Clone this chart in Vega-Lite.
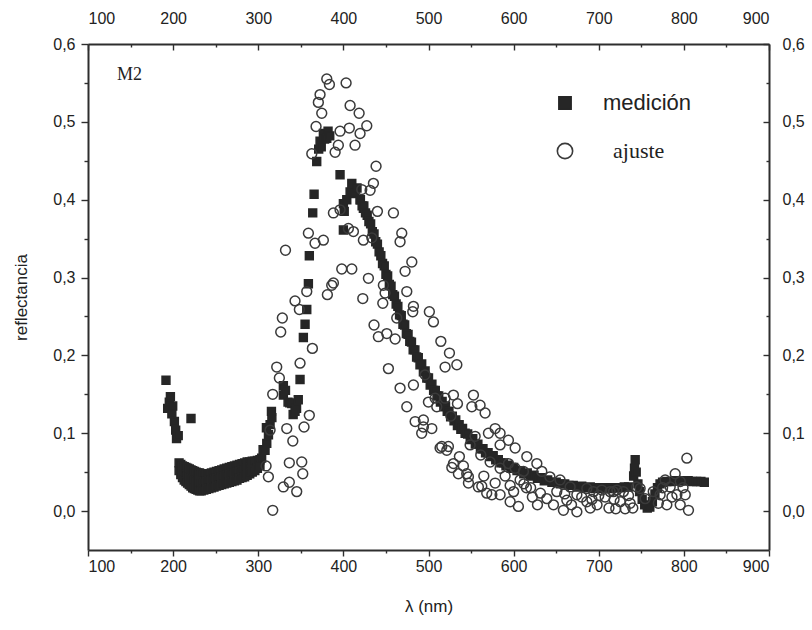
{
  "$schema": "https://vega.github.io/schema/vega-lite/v6.json",
  "width": 681,
  "height": 506,
  "autosize": {"type": "none"},
  "padding": {"left": 88, "top": 44, "right": 43, "bottom": 80},
  "background": "white",
  "config": {
    "view": {"stroke": null},
    "axis": {
      "grid": false,
      "domainColor": "#2e2e2e",
      "domainWidth": 2,
      "tickColor": "#2e2e2e",
      "tickWidth": 1.4,
      "labelColor": "#222222",
      "labelFont": "Liberation Sans",
      "labelFontSize": 16,
      "titleFont": "Liberation Sans",
      "titleFontSize": 17,
      "titleFontWeight": "normal",
      "titleColor": "#222222"
    },
    "legend": {
      "orient": "none",
      "legendX": 466,
      "legendY": 48,
      "labelFont": "Liberation Sans",
      "labelFontSize": 22,
      "labelColor": "#222222",
      "rowPadding": 26,
      "symbolSize": 150,
      "symbolStrokeWidth": 1.6,
      "title": null
    }
  },
  "resolve": {"axis": {"x": "independent", "y": "independent"}},
  "layer": [
    {
      "data": {
        "values": "serie,lambda,r\nmedición,191.6,0.168\nmedición,193.6,0.132\nmedición,195.5,0.140\nmedición,196.8,0.147\nmedición,198.5,0.125\nmedición,199.5,0.135\nmedición,201.5,0.115\nmedición,203,0.104\nmedición,204,0.093\nmedición,206,0.097\nmedición,221,0.119\nmedición,207,0.062\nmedición,207,0.052\nmedición,209,0.060\nmedición,209,0.047\nmedición,211,0.058\nmedición,211,0.050\nmedición,211,0.043\nmedición,213,0.057\nmedición,213,0.048\nmedición,213,0.040\nmedición,215,0.056\nmedición,215,0.047\nmedición,215,0.038\nmedición,217,0.055\nmedición,217,0.045\nmedición,217,0.036\nmedición,219,0.054\nmedición,219,0.044\nmedición,219,0.034\nmedición,221,0.053\nmedición,221,0.042\nmedición,221,0.032\nmedición,223,0.052\nmedición,223,0.041\nmedición,223,0.030\nmedición,225,0.051\nmedición,225,0.040\nmedición,225,0.029\nmedición,227,0.050\nmedición,227,0.039\nmedición,227,0.028\nmedición,229,0.049\nmedición,229,0.038\nmedición,229,0.027\nmedición,231,0.049\nmedición,231,0.037\nmedición,231,0.026\nmedición,233,0.048\nmedición,233,0.037\nmedición,233,0.026\nmedición,236,0.048\nmedición,236,0.038\nmedición,236,0.027\nmedición,239,0.048\nmedición,239,0.038\nmedición,239,0.028\nmedición,242,0.048\nmedición,242,0.039\nmedición,242,0.029\nmedición,245,0.049\nmedición,245,0.040\nmedición,245,0.030\nmedición,248,0.050\nmedición,248,0.041\nmedición,248,0.031\nmedición,251,0.051\nmedición,251,0.042\nmedición,251,0.032\nmedición,254,0.052\nmedición,254,0.043\nmedición,254,0.033\nmedición,257,0.053\nmedición,257,0.044\nmedición,257,0.034\nmedición,260,0.054\nmedición,260,0.045\nmedición,260,0.035\nmedición,263,0.055\nmedición,263,0.046\nmedición,263,0.036\nmedición,266,0.056\nmedición,266,0.047\nmedición,266,0.037\nmedición,269,0.057\nmedición,269,0.048\nmedición,269,0.038\nmedición,272,0.058\nmedición,272,0.049\nmedición,272,0.039\nmedición,275,0.059\nmedición,275,0.050\nmedición,275,0.040\nmedición,278,0.060\nmedición,278,0.051\nmedición,278,0.042\nmedición,281,0.061\nmedición,281,0.052\nmedición,281,0.043\nmedición,284,0.062\nmedición,284,0.053\nmedición,284,0.044\nmedición,287,0.063\nmedición,287,0.055\nmedición,287,0.046\nmedición,290,0.063\nmedición,290,0.056\nmedición,290,0.048\nmedición,293,0.064\nmedición,293,0.050\nmedición,296,0.064\nmedición,296,0.052\nmedición,299,0.065\nmedición,299,0.055\nmedición,302,0.066\nmedición,302,0.058\nmedición,304,0.068\nmedición,305.7,0.079\nmedición,308,0.078\nmedición,310,0.087\nmedición,309.6,0.107\nmedición,312,0.098\nmedición,313.9,0.111\nmedición,315.5,0.128\nmedición,316,0.120\nmedición,329.5,0.161\nmedición,329.5,0.149\nmedición,332,0.155\nmedición,335,0.140\nmedición,337,0.139\nmedición,339.4,0.138\nmedición,341,0.124\nmedición,343.2,0.128\nmedición,345,0.132\nmedición,347,0.143\nmedición,349.1,0.169\nmedición,353,0.223\nmedición,355,0.240\nmedición,357,0.259\nmedición,358.9,0.292\nmedición,360,0.328\nmedición,364,0.383\nmedición,365.6,0.407\nmedición,368.7,0.449\nmedición,371,0.465\nmedición,372.6,0.475\nmedición,374,0.468\nmedición,376.5,0.485\nmedición,378,0.478\nmedición,380.5,0.479\nmedición,382,0.488\nmedición,384,0.482\nmedición,396.1,0.432\nmedición,400,0.395\nmedición,401,0.385\nmedición,400,0.361\nmedición,404,0.400\nmedición,407.9,0.410\nmedición,409.9,0.421\nmedición,413.7,0.408\nmedición,416,0.415\nmedición,419.6,0.400\nmedición,423.5,0.389\nmedición,420,0.400\nmedición,422,0.392\nmedición,424,0.392\nmedición,426,0.383\nmedición,428,0.380\nmedición,430,0.372\nmedición,432,0.369\nmedición,434,0.359\nmedición,436,0.356\nmedición,438,0.346\nmedición,440,0.343\nmedición,442,0.333\nmedición,444,0.328\nmedición,446,0.318\nmedición,448,0.315\nmedición,450,0.304\nmedición,452,0.302\nmedición,454,0.291\nmedición,456,0.289\nmedición,458,0.278\nmedición,460,0.276\nmedición,462,0.266\nmedición,464,0.263\nmedición,466,0.252\nmedición,468,0.251\nmedición,470,0.240\nmedición,472,0.239\nmedición,474,0.228\nmedición,476,0.227\nmedición,478,0.218\nmedición,480,0.217\nmedición,482,0.207\nmedición,484,0.207\nmedición,486,0.198\nmedición,488,0.197\nmedición,490,0.188\nmedición,492,0.189\nmedición,494,0.179\nmedición,496,0.180\nmedición,498,0.171\nmedición,500,0.171\nmedición,502,0.162\nmedición,504,0.163\nmedición,506,0.155\nmedición,508,0.155\nmedición,510,0.148\nmedición,512,0.148\nmedición,514,0.140\nmedición,516,0.141\nmedición,518,0.134\nmedición,520,0.135\nmedición,522,0.128\nmedición,524,0.128\nmedición,526,0.121\nmedición,528,0.122\nmedición,530,0.116\nmedición,532,0.117\nmedición,534,0.110\nmedición,536,0.111\nmedición,538,0.105\nmedición,540,0.106\nmedición,543,0.100\nmedición,546,0.099\nmedición,549,0.092\nmedición,552,0.093\nmedición,555,0.086\nmedición,558,0.086\nmedición,561,0.080\nmedición,564,0.080\nmedición,567,0.075\nmedición,570,0.075\nmedición,573,0.070\nmedición,576,0.071\nmedición,579,0.066\nmedición,582,0.066\nmedición,585,0.062\nmedición,588,0.062\nmedición,591,0.058\nmedición,594,0.059\nmedición,597,0.055\nmedición,600,0.056\nmedición,604,0.052\nmedición,608,0.052\nmedición,612,0.048\nmedición,616,0.049\nmedición,620,0.045\nmedición,624,0.046\nmedición,628,0.042\nmedición,632,0.043\nmedición,636,0.039\nmedición,640,0.040\nmedición,645,0.037\nmedición,650,0.037\nmedición,655,0.035\nmedición,660,0.035\nmedición,665,0.033\nmedición,670,0.033\nmedición,675,0.031\nmedición,680,0.032\nmedición,685,0.030\nmedición,690,0.031\nmedición,695,0.029\nmedición,700,0.030\nmedición,705,0.029\nmedición,710,0.030\nmedición,715,0.029\nmedición,720,0.030\nmedición,725,0.030\nmedición,730,0.031\nmedición,735,0.031\nmedición,741,0.045\nmedición,742,0.055\nmedición,742.8,0.066\nmedición,744,0.050\nmedición,746,0.035\nmedición,748,0.025\nmedición,751,0.015\nmedición,754,0.008\nmedición,757,0.004\nmedición,760,0.005\nmedición,763,0.012\nmedición,766,0.022\nmedición,769,0.030\nmedición,772,0.035\nmedición,775,0.037\nmedición,780,0.038\nmedición,785,0.038\nmedición,790,0.039\nmedición,795,0.039\nmedición,800,0.039\nmedición,805,0.039\nmedición,810,0.038\nmedición,815,0.038\nmedición,820,0.038\nmedición,824,0.037\najuste,321.7,0.185\najuste,324.8,0.171\najuste,317,0.150\najuste,313.9,0.104\najuste,333.5,0.106\najuste,340.6,0.090\najuste,360,0.123\najuste,353.8,0.108\najuste,349.1,0.190\najuste,309.2,0.058\najuste,311.9,0.044\najuste,336.5,0.062\najuste,351.1,0.063\najuste,352.3,0.048\najuste,329.5,0.031\najuste,336.5,0.037\najuste,345.2,0.025\najuste,317,0.001\najuste,363.6,0.209\najuste,328.3,0.248\najuste,326.4,0.230\najuste,348.3,0.259\najuste,343.2,0.270\najuste,357,0.282\najuste,381.2,0.278\najuste,386.3,0.290\najuste,332,0.335\najuste,380.5,0.555\najuste,383.6,0.548\najuste,403.2,0.550\najuste,372.6,0.535\najuste,370.6,0.525\najuste,407.9,0.521\najuste,374.6,0.511\najuste,418.5,0.511\najuste,367.9,0.494\najuste,407,0.492\najuste,427.5,0.495\najuste,396.1,0.488\najuste,419.6,0.485\najuste,394.1,0.470\najuste,413.7,0.470\najuste,362.9,0.459\najuste,390.3,0.461\najuste,438.4,0.443\najuste,435.3,0.421\najuste,421.6,0.413\najuste,431.4,0.412\najuste,388.3,0.383\najuste,396.1,0.387\najuste,440,0.385\najuste,458.8,0.383\najuste,405.9,0.363\najuste,411.8,0.359\najuste,423.5,0.348\najuste,433.4,0.351\najuste,468.6,0.357\najuste,466.6,0.346\najuste,358.9,0.357\najuste,366.7,0.344\najuste,376.5,0.348\najuste,480.4,0.320\najuste,472.5,0.308\najuste,398.1,0.311\najuste,409.9,0.311\najuste,429.4,0.299\najuste,388.3,0.293\najuste,422.8,0.273\najuste,446.3,0.267\najuste,449,0.280\najuste,447,0.290\najuste,474.5,0.282\najuste,481.5,0.256\najuste,462.7,0.248\najuste,436,0.239\najuste,441.1,0.224\najuste,451,0.228\najuste,460.8,0.221\najuste,452.9,0.183\najuste,466.6,0.158\najuste,482.3,0.162\najuste,474.5,0.134\najuste,484.3,0.115\najuste,482.3,0.263\najuste,501,0.256\najuste,505.8,0.243\najuste,514.5,0.218\najuste,524.6,0.203\najuste,533.3,0.188\najuste,519.5,0.185\najuste,496,0.175\najuste,494,0.108\najuste,503.9,0.106\najuste,492,0.100\najuste,515.6,0.083\najuste,523.4,0.083\najuste,529.3,0.061\najuste,535.1,0.048\najuste,544.9,0.048\najuste,546.9,0.036\najuste,558.6,0.031\najuste,568.4,0.023\najuste,507.8,0.145\najuste,519.5,0.145\najuste,529.3,0.149\najuste,534,0.138\najuste,499.9,0.140\najuste,509.7,0.134\najuste,526.2,0.122\najuste,552.8,0.149\najuste,560.6,0.136\najuste,550.9,0.134\najuste,566.5,0.126\najuste,494,0.117\najuste,578.3,0.106\najuste,570.4,0.100\najuste,584.1,0.100\najuste,593.9,0.091\najuste,584.1,0.085\najuste,601.8,0.081\najuste,554.8,0.096\najuste,548.9,0.085\najuste,513.6,0.081\najuste,521.5,0.078\najuste,536.3,0.070\najuste,561.4,0.072\najuste,572.4,0.063\najuste,584.1,0.055\najuste,593.9,0.061\najuste,601.8,0.055\najuste,611.5,0.051\najuste,615.5,0.070\najuste,627.3,0.061\najuste,633.1,0.051\najuste,527.4,0.056\najuste,541,0.058\najuste,546.9,0.044\najuste,562.6,0.032\najuste,578.3,0.036\najuste,595.9,0.033\najuste,607.6,0.040\najuste,574.4,0.021\najuste,584.1,0.021\najuste,595.9,0.012\najuste,605.6,0.006\najuste,631.5,0.023\najuste,639,0.016\najuste,646.8,0.008\najuste,642.6,0.044\najuste,654.6,0.040\najuste,650.7,0.025\najuste,666.4,0.031\najuste,674.3,0.021\najuste,686,0.029\najuste,693.8,0.025\najuste,703.6,0.027\najuste,713.4,0.025\najuste,721.3,0.027\najuste,662.5,0.014\najuste,686,0.012\najuste,698,0.008\najuste,658.5,0.001\najuste,674.3,-0.001\najuste,707.5,0.018\najuste,717.3,0.025\najuste,729,0.025\najuste,725.2,0.012\najuste,736.9,0.010\najuste,712,0.004\najuste,731,0.003\najuste,744.6,0.031\najuste,748.6,0.029\najuste,754.5,0.016\najuste,764,0.025\najuste,770,0.010\najuste,772.1,0.021\najuste,778,0.040\najuste,783.9,0.031\najuste,789.8,0.048\najuste,795.7,0.038\najuste,791.8,0.021\najuste,801.6,0.021\najuste,795.7,0.008\najuste,780,0.008\najuste,805.4,0.001\najuste,803.5,0.068\najuste,615,0.030\najuste,622,0.018\najuste,628,0.008\najuste,660,0.022\najuste,668,0.008\najuste,680,0.018\najuste,692,0.015\najuste,700,0.020\najuste,718,0.015\najuste,735,0.020\najuste,740,0.004\najuste,690,0.004\najuste,720,0.003\najuste,565,0.045\najuste,590,0.045\najuste,600,0.025\najuste,612,0.035\najuste,620,0.030\najuste,775,0.030\najuste,786,0.018\najuste,799,0.030",
        "format": {"type": "csv", "parse": {"lambda": "number", "r": "number"}}
      },
      "mark": {"type": "point", "filled": true, "opacity": 1, "size": 62, "strokeWidth": 1.5},
      "encoding": {
        "x": {
          "field": "lambda", "type": "quantitative",
          "scale": {"domain": [100, 900], "nice": false, "zero": false},
          "axis": {"orient": "bottom", "values": [100, 200, 300, 400, 500, 600, 700, 800, 900], "title": "λ (nm)", "tickSize": 6, "labelPadding": 2, "titlePadding": 24}
        },
        "y": {
          "field": "r", "type": "quantitative",
          "scale": {"domain": [-0.05, 0.6], "nice": false, "zero": false},
          "axis": {"orient": "left", "values": [0, 0.1, 0.2, 0.3, 0.4, 0.5, 0.6], "labelExpr": "replace(format(datum.value, '.1f'), '.', ',')", "title": "reflectancia", "tickSize": 7, "labelPadding": 6, "titlePadding": 22}
        },
        "shape": {
          "field": "serie", "type": "nominal",
          "scale": {"domain": ["medición", "ajuste"], "range": ["square", "M -1.25 0 A 1.25 1.25 0 1 0 1.25 0 A 1.25 1.25 0 1 0 -1.25 0 Z"]},
          "legend": {"title": null, "labelFont": {"expr": "datum.label === 'ajuste' ? 'Liberation Serif' : 'Liberation Sans'"}, "labelOffset": {"expr": "datum.label === 'ajuste' ? 37 : 27"}}
        },
        "fill": {
          "field": "serie", "type": "nominal",
          "scale": {"domain": ["medición", "ajuste"], "range": ["#262626", "transparent"]},
          "legend": {"title": null, "labelFont": {"expr": "datum.label === 'ajuste' ? 'Liberation Serif' : 'Liberation Sans'"}, "labelOffset": {"expr": "datum.label === 'ajuste' ? 37 : 27"}}
        },
        "stroke": {
          "field": "serie", "type": "nominal",
          "scale": {"domain": ["medición", "ajuste"], "range": ["#262626", "#3a3a3a"]},
          "legend": {"title": null, "labelFont": {"expr": "datum.label === 'ajuste' ? 'Liberation Serif' : 'Liberation Sans'"}, "labelOffset": {"expr": "datum.label === 'ajuste' ? 37 : 27"}}
        }
      }
    },
    {
      "data": {"values": [{"lambda": 100, "r": 0}]},
      "mark": {"type": "point", "opacity": 0},
      "encoding": {
        "x": {
          "field": "lambda", "type": "quantitative",
          "scale": {"domain": [100, 900], "nice": false, "zero": false},
          "axis": {"orient": "top", "values": [100, 200, 300, 400, 500, 600, 700, 800, 900], "title": null, "tickSize": -6, "labelPadding": 24}
        },
        "y": {
          "field": "r", "type": "quantitative",
          "scale": {"domain": [-0.05, 0.6], "nice": false, "zero": false},
          "axis": {"orient": "right", "values": [0, 0.1, 0.2, 0.3, 0.4, 0.5, 0.6], "labelExpr": "replace(format(datum.value, '.1f'), '.', ',')", "title": null, "tickSize": -6, "labelPadding": 19}
        }
      }
    },
    {
      "data": {"values": [{"lambda": 100, "r": 0}]},
      "mark": {"type": "point", "opacity": 0},
      "encoding": {
        "x": {
          "field": "lambda", "type": "quantitative",
          "scale": {"domain": [100, 900], "nice": false, "zero": false},
          "axis": {"orient": "bottom", "values": [150, 250, 350, 450, 550, 650, 750, 850], "title": null, "labels": false, "domain": false, "tickSize": 3}
        },
        "y": {
          "field": "r", "type": "quantitative",
          "scale": {"domain": [-0.05, 0.6], "nice": false, "zero": false},
          "axis": {"orient": "left", "values": [0.05, 0.15, 0.25, 0.35, 0.45, 0.55], "title": null, "labels": false, "domain": false, "tickSize": 4}
        }
      }
    },
    {
      "data": {"values": [{"lambda": 100, "r": 0}]},
      "mark": {"type": "point", "opacity": 0},
      "encoding": {
        "x": {
          "field": "lambda", "type": "quantitative",
          "scale": {"domain": [100, 900], "nice": false, "zero": false},
          "axis": {"orient": "top", "values": [150, 250, 350, 450, 550, 650, 750, 850], "title": null, "labels": false, "domain": false, "tickSize": -3}
        },
        "y": {
          "field": "r", "type": "quantitative",
          "scale": {"domain": [-0.05, 0.6], "nice": false, "zero": false},
          "axis": {"orient": "right", "values": [0.05, 0.15, 0.25, 0.35, 0.45, 0.55], "title": null, "labels": false, "domain": false, "tickSize": -3}
        }
      }
    },
    {
      "data": {"values": [{"lambda": 134, "r": 0.56, "t": "M2"}]},
      "mark": {"type": "text", "align": "left", "baseline": "middle", "font": "Liberation Serif", "fontSize": 18, "color": "#222222"},
      "encoding": {
        "x": {"field": "lambda", "type": "quantitative", "scale": {"domain": [100, 900], "nice": false, "zero": false}, "axis": null},
        "y": {"field": "r", "type": "quantitative", "scale": {"domain": [-0.05, 0.6], "nice": false, "zero": false}, "axis": null},
        "text": {"field": "t"}
      }
    }
  ]
}
